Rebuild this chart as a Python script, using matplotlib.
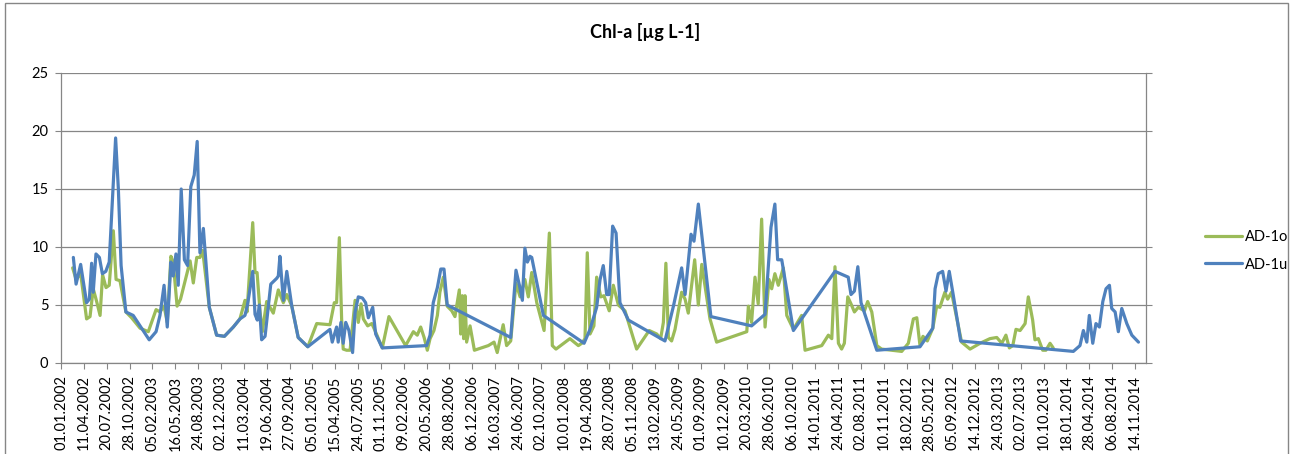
import numpy as np
import matplotlib.pyplot as plt
import matplotlib.dates as mdates
from matplotlib.patches import Rectangle

# sampling days counted from 01.01.2002
start = np.datetime64('2002-01-01')

# AD-1o (surface)
days_o = [51, 66, 86, 112, 127, 141, 156, 171, 182, 197, 211, 229, 241, 258, 284, 309,
          346, 382, 416, 433, 451, 465, 481, 491, 508, 523, 565, 579, 594, 608, 620, 649,
          681, 715, 754, 783, 805, 814, 839, 849, 858, 871, 881, 900, 929, 951, 973, 988,
          1010, 1038, 1080, 1119, 1177, 1196, 1206, 1218, 1228, 1235, 1250, 1265, 1287,
          1301, 1313, 1323, 1342, 1360, 1374, 1406, 1435, 1508, 1542, 1559, 1574, 1589,
          1603, 1615, 1632, 1647, 1658, 1673, 1690, 1710, 1724, 1743, 1749, 1756, 1762,
          1768, 1775, 1790, 1809, 1870, 1895, 1909, 1935, 1950, 1968, 1991, 2009, 2030,
          2045, 2060, 2082, 2114, 2137, 2150, 2166, 2227, 2264, 2279, 2293, 2303, 2315,
          2332, 2344, 2362, 2376, 2399, 2417, 2439, 2468, 2519, 2574, 2607, 2624, 2636,
          2647, 2658, 2672, 2687, 2716, 2731, 2745, 2773, 2789, 2804, 2840, 2869, 3001,
          3008, 3022, 3037, 3051, 3066, 3081, 3098, 3110, 3124, 3139, 3161, 3176, 3205,
          3241, 3256, 3329, 3358, 3373, 3387, 3402, 3416, 3428, 3443, 3457, 3472, 3489,
          3516, 3530, 3548, 3570, 3591, 3679, 3708, 3730, 3745, 3759, 3772, 3791, 3815,
          3832, 3846, 3868, 3880, 3897, 3941, 3978, 4022, 4065, 4095, 4117, 4135, 4150,
          4165, 4179, 4197, 4219, 4233, 4252, 4262, 4277, 4296, 4310, 4328, 4342]
chl_o = [8.2, 7.2, 7.7, 3.8, 4.0, 6.4, 5.3, 4.1, 7.6, 6.5, 6.7, 11.4, 7.2, 7.1, 4.4, 3.9,
         3.0, 2.7, 4.6, 4.4, 4.9, 3.5, 9.2, 8.7, 4.9, 5.5, 8.8, 6.9, 9.1, 9.1, 9.7, 4.8,
         2.4, 2.3, 3.1, 3.8, 5.4, 4.4, 12.1, 7.8, 7.8, 4.4, 2.7, 5.3, 4.3, 6.3, 5.2, 5.9,
         4.9, 2.2, 1.4, 3.4, 3.3, 5.2, 5.2, 10.8, 3.8, 1.2, 1.1, 1.1, 5.4,
         3.5, 5.1, 3.8, 3.2, 3.4, 2.8, 1.3, 4.0, 1.5, 2.7, 2.4, 3.1, 2.2,
         1.1, 2.1, 2.8, 4.1, 6.1, 7.4, 4.9, 4.5, 4.0, 6.3, 2.5, 5.8, 2.1,
         5.8, 1.8, 3.2, 1.1, 1.5, 1.8, 0.9, 3.3, 1.5, 1.9, 6.9, 5.7, 7.2,
         5.7, 7.8, 5.2, 2.8, 11.2, 1.5, 1.2, 2.1, 1.5, 1.7, 2.1, 9.5, 2.5,
         3.2, 7.4, 5.7, 5.8, 4.5, 6.7, 5.0, 4.5, 1.2, 2.8, 2.5, 2.1, 3.5,
         8.6, 2.2, 1.9, 2.9, 6.1, 5.5, 4.3, 8.9, 5.0, 8.5, 3.8, 1.8, 2.7,
         4.9, 3.5, 7.4, 5.1, 12.4, 3.1, 7.2, 6.4, 7.7, 6.7, 8.2, 4.1, 2.9,
         4.1, 1.1, 1.5, 2.4, 2.1, 8.3, 1.7, 1.2, 1.7, 5.7, 5.1, 4.4, 4.8,
         4.5, 5.3, 4.4, 1.5, 1.2, 1.0, 1.7, 3.8, 3.9, 1.5, 2.3, 1.9, 3.0,
         4.9, 4.8, 6.1, 5.5, 6.1, 1.8, 1.2, 1.7, 2.1, 2.2, 1.7, 2.4, 1.3,
         1.5, 2.9, 2.8, 3.4, 5.7, 3.7, 2.0, 2.1, 1.1, 1.1, 1.7, 1.3]

# AD-1u (bottom)
days_u = [54, 66, 86, 112, 124, 134, 141, 153, 168, 181, 196, 211, 239, 251, 263, 284,
          316, 346, 386, 416, 433, 451, 465, 481, 491, 503, 513, 526, 540, 554, 568, 583,
          596, 608, 623, 649, 681, 715, 754, 783, 805, 816, 839, 849, 859, 868, 878, 893,
          918, 944, 951, 958, 973, 988, 1010, 1038, 1080, 1177, 1187, 1206, 1213, 1225,
          1235, 1246, 1260, 1276, 1287, 1301, 1319, 1333, 1345, 1364, 1377, 1406, 1600,
          1615, 1629, 1647, 1662, 1676, 1690, 1968, 1991, 2006, 2019, 2030, 2041, 2052,
          2060, 2111, 2289, 2315, 2344, 2359, 2373, 2388, 2399, 2414, 2429, 2446, 2483,
          2643, 2680, 2716, 2731, 2757, 2770, 2789, 2844, 3022, 3081, 3107, 3124, 3136,
          3154, 3205, 3387, 3445, 3457, 3472, 3487, 3501, 3570, 3759, 3815, 3825, 3839,
          3858, 3873, 3887, 3905, 3937, 4430, 4459, 4474, 4489, 4500, 4515, 4529, 4544,
          4559, 4573, 4588, 4598, 4613, 4627, 4642, 4664, 4686, 4715]
chl_u = [9.1, 6.8, 8.5, 5.2, 5.5, 8.6, 6.1, 9.4, 9.1, 7.7, 7.9, 8.7, 19.4, 15.0, 8.4, 4.4,
         4.1, 3.2, 2.0, 2.7, 4.1, 6.7, 3.1, 8.7, 7.5, 9.4, 6.7, 15.0, 8.9, 8.4, 15.2, 16.2,
         19.1, 9.5, 11.6, 4.8, 2.4, 2.3, 3.1, 3.8, 4.1, 5.0, 7.9, 4.2, 3.7, 5.0, 2.0, 2.3,
         6.8, 7.3, 7.5, 9.2, 5.4, 7.9, 4.9, 2.2, 1.4, 2.9, 1.8, 3.1, 1.8, 3.5,
         1.7, 3.5, 2.8, 0.9, 4.4, 5.7, 5.6, 5.2, 3.9, 4.8, 2.5, 1.3, 1.5,
         2.4, 5.2, 6.5, 8.1, 8.1, 5.0, 2.2, 8.0, 6.7, 5.4, 9.9, 8.7, 9.2,
         9.1, 4.1, 1.7, 2.9, 4.8, 7.2, 8.4, 5.9, 5.9, 11.8, 11.2, 5.2, 3.7,
         1.9, 4.9, 8.2, 5.9, 11.1, 10.5, 13.7, 4.0, 3.2, 4.2, 11.7, 13.7, 8.9,
         8.9, 2.8, 7.9, 7.4, 5.9, 6.2, 8.3, 5.2, 1.1, 1.4, 3.0, 6.4, 7.7,
         7.9, 6.2, 7.9, 5.8, 1.9, 1.0, 1.5, 2.8, 1.8, 4.1, 1.7, 3.4, 3.1,
         5.3, 6.4, 6.7, 4.7, 4.4, 2.7, 4.7, 3.4, 2.4, 1.8]

dates_o = start + np.array(days_o).astype('timedelta64[D]')
dates_u = start + np.array(days_u).astype('timedelta64[D]')

plt.rcParams['font.family'] = ['Lato', 'DejaVu Sans']
grey = '#868686'

fig = plt.figure(figsize=(12.9, 4.54), dpi=100)
ax = fig.add_axes([61/1290, 1 - 363/454, (1146 - 61)/1290, 290/454])

ax.plot(dates_o, chl_o, color='#9BBB59', lw=2.3, label='AD-1o', zorder=3,
        solid_joinstyle='round', solid_capstyle='round')
ax.plot(dates_u, chl_u, color='#4F81BD', lw=2.3, label='AD-1u', zorder=4,
        solid_joinstyle='round', solid_capstyle='round')

ax.set_ylim(0, 25)
ax.set_yticks(range(0, 26, 5))
ax.set_xlim(start, np.datetime64('2015-01-01'))
ticks = start + np.arange(0, 4701, 100).astype('timedelta64[D]')
ax.set_xticks(ticks)
ax.xaxis.set_major_formatter(mdates.DateFormatter('%d.%m.%Y'))
ax.tick_params(axis='x', rotation=90, labelsize=10.5, length=4, width=0.8, color=grey, pad=5)
ax.tick_params(axis='y', labelsize=10.5, length=4, width=0.8, color=grey, pad=5, right=True)
for lab in ax.get_xticklabels():
    lab.set_ha('center')
    lab.set_va('top')

ax.grid(axis='y', color=grey, lw=0.9)
ax.set_axisbelow(True)
for s in ['left', 'right', 'bottom']:
    ax.spines[s].set_color(grey)
    ax.spines[s].set_linewidth(0.9)
ax.spines['top'].set_visible(False)

fig.text(645/1290, 1 - 32/454, 'Chl-a [µg L-1]', ha='center', va='center',
         fontsize=13, fontweight='bold')

fig.legend(loc='center left', bbox_to_anchor=(1192/1290, 1 - 251/454), frameon=False,
           fontsize=10.5, handlelength=2.5, handletextpad=0.2, labelspacing=0.9)

fig.patches.append(Rectangle((5/1290, -0.05), 1283/1290, 1.05 - 3/454,
                             transform=fig.transFigure, fill=False,
                             edgecolor=grey, lw=1.0))

fig.savefig('out.png', dpi=100)
